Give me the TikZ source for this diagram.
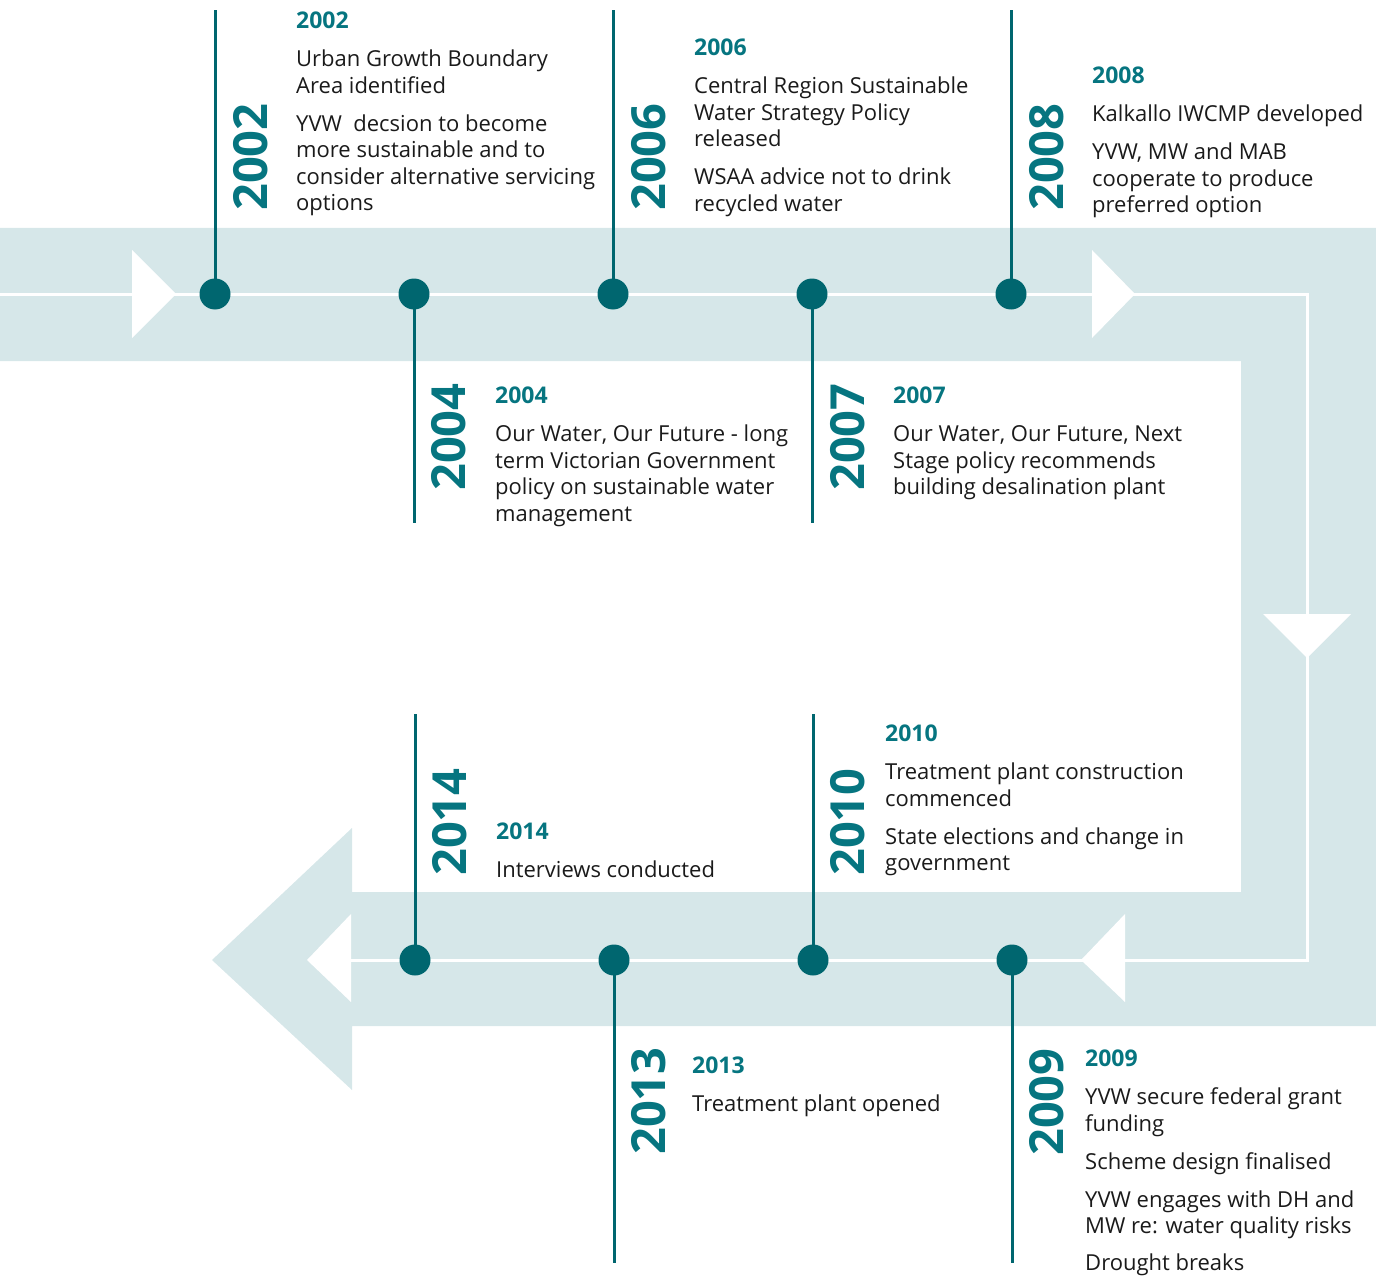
\documentclass[tikz,border=0pt]{standalone}
\usepackage{fontspec}
\setmainfont{Open Sans}
\definecolor{band}{HTML}{D6E7E9}
\definecolor{yvwteal}{HTML}{00666F}
\definecolor{yeartext}{HTML}{067580}
\definecolor{ink}{HTML}{1A1A1A}
\newcommand{\yr}[1]{{\color{yeartext}\fontsize{23}{26.5}\selectfont\bfseries #1}}
\tikzset{
  event dot/.style={circle, fill=yvwteal, minimum size=31pt, inner sep=0pt},
  stem/.style={yvwteal, line width=3pt},
  flow line/.style={white, line width=3pt},
  year label/.style={rotate=90, anchor=base west, inner sep=0pt, text=yeartext,
    font=\fontsize{47}{47}\selectfont\bfseries},
  blurb/.style={anchor=north west, align=left, inner sep=0pt, text=ink,
    font=\fontsize{22}{26.5}\selectfont},
}
\begin{document}
\begin{tikzpicture}[x=1pt, y=-1pt]
            \useasboundingbox (0,0) rectangle (1376,1276);

            % band
            \fill[band] (0,228) -- (1376,228) -- (1376,1026) -- (352,1026) -- (352,1090)
                -- (212,960) -- (352,828) -- (352,892) -- (1241,892) -- (1241,361)
                -- (0,361) -- cycle;

            % white flow line
            \draw[flow line] (0,294) -- (1307,294) -- (1307,960) -- (351,960);

            % white arrow heads
            \fill[white] (132,250) -- (176,294) -- (132,338) -- cycle;
            \fill[white] (1092,250) -- (1135,294) -- (1092,338) -- cycle;
            \fill[white] (1263,614) -- (1351,614) -- (1307,658) -- cycle;
            \fill[white] (1125,914) -- (1081,960) -- (1125,1002) -- cycle;
            \fill[white] (351,914) -- (307,960) -- (351,1002) -- cycle;

            % stems and dots, upper track
            \foreach \yy/\x/\e in {2002/215/10, 2004/414/523, 2006/613/10, 2007/812/523, 2008/1011/10}
            {
                \coordinate (e\yy) at (\x,\e);
                \draw[stem] (\x,294) -- (e\yy);
                \node[event dot] (d\yy) at (\x,294) {};
            }

            % stems and dots, lower track
            \foreach \yy/\x/\e in {2014/415/714, 2013/614/1263, 2010/813/714, 2009/1012/1263}
            {
                \coordinate (e\yy) at (\x,\e);
                \draw[stem] (\x,960) -- (e\yy);
                \node[event dot] (d\yy) at (\x,960) {};
            }

            % big years
            \node[year label] (y2002) at (267,211) {2002};
            \node[year label] (y2004) at (465,491) {2004};
            \node[year label] (y2006) at (665,211) {2006};
            \node[year label] (y2007) at (864,491) {2007};
            \node[year label] (y2008) at (1063,211) {2008};
            \node[year label] (y2014) at (466,876) {2014};
            \node[year label] (y2010) at (864,876) {2010};
            \node[year label] (y2013) at (665,1155) {2013};
            \node[year label] (y2009) at (1063,1156) {2009};

            % event texts
            \node[blurb] (t2002) at (296,12) {\yr{2002}\\[11.5pt]
                Urban Growth Boundary\\ Area identified\\[11.5pt]
                YVW\ \ decsion to become\\ more sustainable and to\\
                consider alternative servicing\\ options};
            \node[blurb] (t2006) at (694,39) {\yr{2006}\\[11.5pt]
                Central Region Sustainable\\ Water Strategy Policy\\ released\\[11.5pt]
                WSAA advice not to drink\\ recycled water};
            \node[blurb] (t2008) at (1092,67) {\yr{2008}\\[11.5pt]
                Kalkallo IWCMP developed\\[11.5pt]
                YVW, MW and MAB\\ cooperate to produce\\ preferred option};
            \node[blurb] (t2004) at (495,387) {\yr{2004}\\[11.5pt]
                Our Water, Our Future - long\\ term Victorian Government\\
                policy on sustainable water\\ management};
            \node[blurb] (t2007) at (893,387) {\yr{2007}\\[11.5pt]
                Our Water, Our Future, Next\\ Stage policy recommends\\
                building desalination plant};
            \node[blurb] (t2014) at (496,823) {\yr{2014}\\[11.5pt]
                Interviews conducted};
            \node[blurb] (t2010) at (885,725) {\yr{2010}\\[11.5pt]
                Treatment plant construction\\ commenced\\[11.5pt]
                State elections and change in\\ government};
            \node[blurb] (t2013) at (692,1057) {\yr{2013}\\[11.5pt]
                Treatment plant opened};
            \node[blurb] (t2009) at (1085,1050) {\yr{2009}\\[11.5pt]
                YVW secure federal grant\\ funding\\[11.5pt]
                Scheme design finalised\\[11.5pt]
                YVW engages with DH and\\ MW re: water quality risks\\[10pt]
                Drought breaks};
        \end{tikzpicture}
\end{document}
